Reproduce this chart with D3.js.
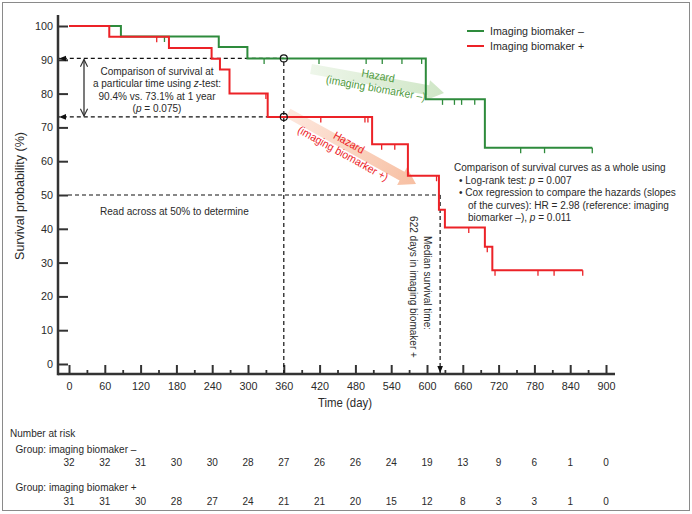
<!DOCTYPE html>
<html><head><meta charset="utf-8">
<script src="https://cdn.jsdelivr.net/npm/d3@7"></script>
<style>
body{margin:0;background:#fff;}
svg{display:block;}
text{font-family:"Liberation Sans",Arial,sans-serif;fill:#2a2a2a;}
</style></head><body>
<svg id="c" width="692" height="514"></svg>
<script>
// ---------- data ----------
const timeTicks = [0,60,120,180,240,300,360,420,480,540,600,660,720,780,840,900];
const minorTicks = [30,90,150,210,270,330,390,450,510,570,630,690,750,810,870];
const yTicks = [0,10,20,30,40,50,60,70,80,90,100];

const negLabel = "Imaging biomaker \u2013";
const posLabel = "Imaging biomaker +";
const negTimes = [0, 87, 251, 299, 598, 697];
const negSurv  = [100, 96.9, 93.8, 90.4, 78.3, 64.0];
const negEnd = 877;
const negCensor = [160, 327, 419, 498, 525, 558, 591, 626, 646, 658, 680, 757, 797, 877];

const posTimes = [0, 67.5, 167.5, 239, 253, 269, 333, 508, 568, 620, 630, 697, 709.5];
const posSurv  = [100, 96.8, 93.5, 90.3, 87.1, 80.0, 73.1, 65.0, 55.7, 45.6, 40.4, 34.7, 27.7];
const posEnd = 861;
const posCensor = [147, 330, 422, 496, 501, 524, 546, 616, 670, 701, 714, 786, 813, 861];

const riskNeg = [32,32,31,30,30,28,27,26,26,24,19,13,9,6,1,0];
const riskPos = [31,31,30,28,27,24,21,21,20,15,12,8,3,3,1,0];

const landmarkDay = 360, landmarkNeg = 90.4, landmarkPos = 73.1;
const medianDay = 622, medianLevel = 50;

// ---------- setup ----------
const GREEN = "#2e8b3c", RED = "#ec2227", AX = "#333";
const svg = d3.select("#c");
const x = d3.scaleLinear().domain([0, 900]).range([69, 606]);
const y = d3.scaleLinear().domain([0, 100]).range([364, 26]);
const axisX = 58, axisY = 374;
const FS = 10.8, SX = 0.93;

// condensed text helper: parts = string or array of [text, italic]
function T(px, py, parts, o = {}) {
  const size = o.size || FS, sx = o.sx || SX, rot = o.rot || 0;
  const g = svg.append("g").attr("transform", `translate(${px},${py}) rotate(${rot}) scale(${sx},1)`);
  const t = g.append("text").attr("text-anchor", o.anchor || "start").attr("font-size", size);
  if (o.color) t.style("fill", o.color);
  if (typeof parts === "string") t.text(parts);
  else parts.forEach(([s, it]) => { const sp = t.append("tspan").text(s); if (it) sp.attr("font-style", "italic"); });
  return t;
}

const defs = svg.append("defs");
defs.append("marker").attr("id", "tri").attr("viewBox", "0 0 10 10")
  .attr("refX", 10).attr("refY", 5).attr("markerWidth", 7).attr("markerHeight", 7)
  .attr("orient", "auto").attr("markerUnits", "userSpaceOnUse")
  .append("path").attr("d", "M0,1 L10,5 L0,9 Z").attr("fill", "#111");
defs.append("marker").attr("id", "vee").attr("viewBox", "0 0 10 10")
  .attr("refX", 9).attr("refY", 5).attr("markerWidth", 9).attr("markerHeight", 9)
  .attr("orient", "auto-start-reverse").attr("markerUnits", "userSpaceOnUse")
  .append("path").attr("d", "M1,1 L9,5 L1,9").attr("fill", "none").attr("stroke", "#333").attr("stroke-width", 1.3);

function grad(id, c1, c2) {
  const g = defs.append("linearGradient").attr("id", id).attr("x1", 0).attr("x2", 1).attr("y1", 0).attr("y2", 0);
  g.append("stop").attr("offset", 0).attr("stop-color", c1);
  g.append("stop").attr("offset", 1).attr("stop-color", c2);
}
grad("gG", "#eef6ea", "#cfe6c6");
grad("gR", "#fde8de", "#f7bfa2");

// frame
svg.append("rect").attr("x", 2.5).attr("y", 2.5).attr("width", 687).attr("height", 508)
  .attr("fill", "none").attr("stroke", "#8a8a8a").attr("stroke-width", 1);

// ---------- hazard arrows ----------
function hazardArrow(x0, y0, x1, y1, fillId) {
  const L = Math.hypot(x1 - x0, y1 - y0), ang = Math.atan2(y1 - y0, x1 - x0) * 180 / Math.PI;
  const w = 5, hw = 10, hl = 16;
  svg.append("g").attr("transform", `translate(${x0},${y0}) rotate(${ang})`)
    .append("path").attr("d", `M0,${-w} L${L - hl},${-w} L${L - hl},${-hw} L${L},0 L${L - hl},${hw} L${L - hl},${w} L0,${w} Z`)
    .attr("fill", `url(#${fillId})`);
  return ang;
}
const angG = hazardArrow(311, 69, 444, 93, "gG");
const angR = hazardArrow(288, 113, 416, 184, "gR");
function hazardText(cx, cy, ang, color, line2) {
  const r = ang * Math.PI / 180, nx = -Math.sin(r), ny = Math.cos(r);
  T(cx + nx * -2.5, cy + ny * -2.5, "Hazard", { anchor: "middle", rot: ang, color, size: 11.2 });
  T(cx + nx * 10, cy + ny * 10, line2, { anchor: "middle", rot: ang, color, size: 11.2 });
}
hazardText(377, 82, angG, "#4f9a40", "(imaging biomarker \u2013)");
hazardText(346, 148, angR, RED, "(imaging biomarker +)");

// ---------- axes ----------
const gy = svg.append("g").attr("transform", `translate(${axisX},0)`)
  .call(d3.axisLeft(y).tickValues(yTicks).tickSizeInner(-10).tickSizeOuter(0).tickPadding(5));
gy.select(".domain").remove();
gy.selectAll(".tick line").attr("stroke", AX).attr("stroke-width", 2);
gy.selectAll(".tick text").attr("font-size", 10.8).style("fill", "#2a2a2a").attr("font-family", null);

const gxm = svg.append("g").attr("transform", `translate(0,${axisY})`)
  .call(d3.axisBottom(x).tickValues(minorTicks).tickSizeInner(-4).tickSizeOuter(0).tickFormat(""));
gxm.select(".domain").remove();
gxm.selectAll(".tick line").attr("stroke", AX).attr("stroke-width", 1.8);
const gx = svg.append("g").attr("transform", `translate(0,${axisY})`)
  .call(d3.axisBottom(x).tickValues(timeTicks).tickSizeInner(-9).tickSizeOuter(0).tickPadding(8));
gx.select(".domain").remove();
gx.selectAll(".tick line").attr("stroke", AX).attr("stroke-width", 2);
gx.selectAll(".tick text").attr("font-size", 10.8).style("fill", "#2a2a2a").attr("font-family", null);

svg.append("line").attr("x1", axisX).attr("x2", axisX).attr("y1", 15).attr("y2", axisY + 1.2)
  .attr("stroke", AX).attr("stroke-width", 2.5);
svg.append("line").attr("x1", axisX).attr("x2", 615).attr("y1", axisY).attr("y2", axisY)
  .attr("stroke", AX).attr("stroke-width", 2.5);

T(24, 196, "Survival probability (%)", { anchor: "middle", rot: -90, size: 12.5, sx: 1 });
T(345, 407, "Time (day)", { anchor: "middle", size: 12, sx: 0.95 });

// ---------- dashed guides ----------
function dline(x1, y1, x2, y2, mEnd) {
  const l = svg.append("line").attr("x1", x1).attr("y1", y1).attr("x2", x2).attr("y2", y2)
    .attr("stroke", "#111").attr("stroke-width", 1.2).attr("stroke-dasharray", "4,3");
  if (mEnd) l.attr("marker-end", "url(#tri)");
}
dline(x(landmarkDay), y(landmarkNeg), axisX + 1, y(landmarkNeg), true);
dline(x(landmarkDay), y(landmarkPos), axisX + 1, y(landmarkPos), true);
dline(x(landmarkDay), y(landmarkNeg) + 3.5, x(landmarkDay), axisY - 1, false);
dline(68, y(medianLevel), x(medianDay), y(medianLevel), false);
dline(x(medianDay), y(medianLevel), x(medianDay), axisY - 1, true);

svg.append("line").attr("x1", 84).attr("x2", 84).attr("y1", y(landmarkNeg) + 1).attr("y2", y(landmarkPos) - 1)
  .attr("stroke", "#333").attr("stroke-width", 1.3)
  .attr("marker-start", "url(#vee)").attr("marker-end", "url(#vee)");

// ---------- curves ----------
const stepLine = d3.line().x(d => x(d[0])).y(d => y(d[1])).curve(d3.curveStepAfter);
function drawCurve(times, surv, end, censor, color) {
  const pts = times.map((t, i) => [t, surv[i]]);
  pts.push([end, surv[surv.length - 1]]);
  svg.append("path").attr("d", stepLine(pts)).attr("fill", "none").attr("stroke", color).attr("stroke-width", 2);
  const level = t => { let v = surv[0]; times.forEach((tt, i) => { if (tt <= t) v = surv[i]; }); return v; };
  svg.append("g").selectAll("line").data(censor).join("line")
    .attr("x1", d => x(d)).attr("x2", d => x(d))
    .attr("y1", d => y(level(d))).attr("y2", d => y(level(d)) + 5.5)
    .attr("stroke", color).attr("stroke-width", 1.3);
}
drawCurve(negTimes, negSurv, negEnd, negCensor, GREEN);
drawCurve(posTimes, posSurv, posEnd, posCensor, RED);

[landmarkNeg, landmarkPos].forEach(v => {
  svg.append("circle").attr("cx", x(landmarkDay)).attr("cy", y(v)).attr("r", 3.5)
    .attr("fill", "none").attr("stroke", "#111").attr("stroke-width", 1.2);
});

// ---------- annotation texts ----------
T(157, 75, "Comparison of survival at", { anchor: "middle" });
T(157, 87.3, [["a particular time using "], ["z", true], ["-test:"]], { anchor: "middle" });
T(157, 99.6, "90.4% vs. 73.1% at 1 year", { anchor: "middle" });
T(157, 111.9, [["("], ["p", true], [" = 0.075)"]], { anchor: "middle" });

T(100, 215, "Read across at 50% to determine");

T(424, 283, "Median survival time:", { anchor: "middle", rot: 90 });
T(409.5, 287, "622 days in imaging biomaker +", { anchor: "middle", rot: 90 });

T(454, 171, "Comparison of survival curves as a whole using");
T(459, 183.6, [["\u2022 Log-rank test: "], ["p", true], [" = 0.007"]]);
T(459, 196.2, "\u2022 Cox regression to compare the hazards (slopes");
T(468, 208.8, "of the curves): HR = 2.98 (reference: imaging");
T(468, 221.4, [["biomarker \u2013), "], ["p", true], [" = 0.011"]]);

// ---------- legend ----------
[[negLabel, GREEN, 31], [posLabel, RED, 46]].forEach(([lab, col, yy]) => {
  svg.append("line").attr("x1", 467).attr("x2", 484).attr("y1", yy).attr("y2", yy).attr("stroke", col).attr("stroke-width", 2);
  T(490, yy + 4, lab, { size: 11.5 });
});

// ---------- number at risk ----------
T(10, 437, "Number at risk");
T(15.5, 452.5, "Group: imaging biomaker \u2013");
T(15.5, 490.5, "Group: imaging biomaker +");
riskNeg.forEach((d, i) => T(x(timeTicks[i]), 466, String(d), { anchor: "middle" }));
riskPos.forEach((d, i) => T(x(timeTicks[i]), 505, String(d), { anchor: "middle" }));
</script>
</body></html>
